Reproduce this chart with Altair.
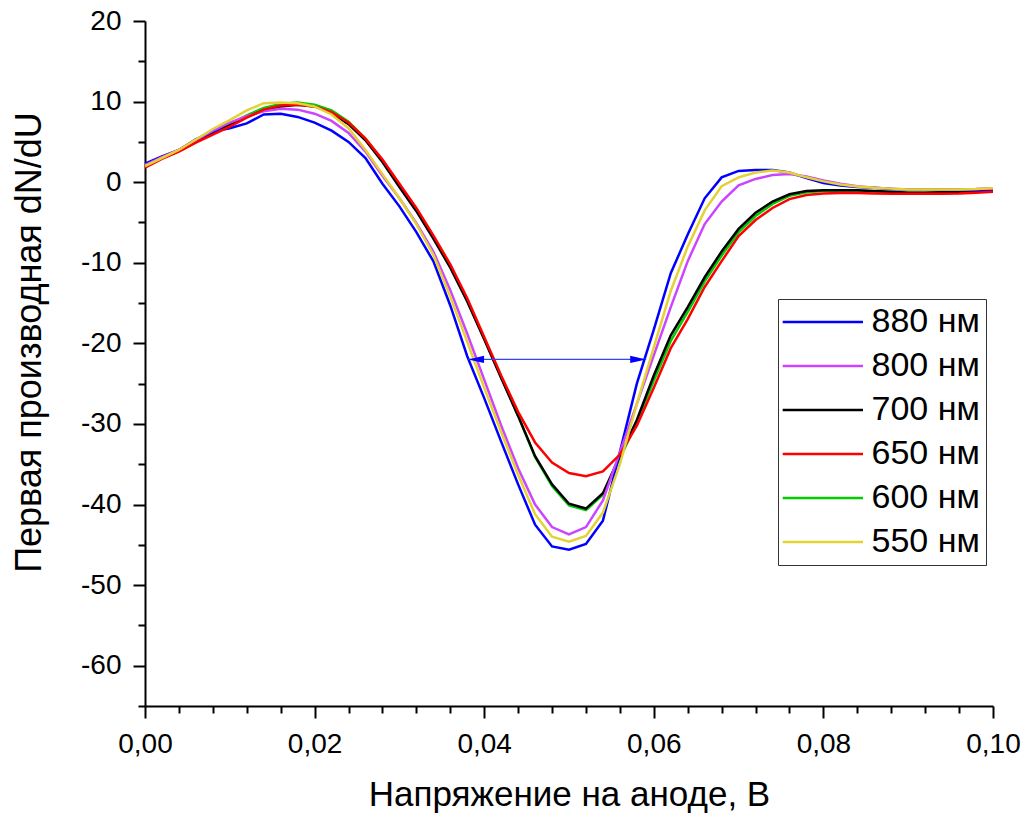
import altair as alt
import pandas as pd

# ---- data ----
x_values = [0.000, 0.002, 0.004, 0.006, 0.008, 0.010, 0.012, 0.014, 0.016, 0.018,
            0.020, 0.022, 0.024, 0.026, 0.028, 0.030, 0.032, 0.034, 0.036, 0.038,
            0.040, 0.042, 0.044, 0.046, 0.048, 0.050, 0.052, 0.054, 0.056, 0.058,
            0.060, 0.062, 0.064, 0.066, 0.068, 0.070, 0.072, 0.074, 0.076, 0.078,
            0.080, 0.082, 0.084, 0.086, 0.088, 0.090, 0.092, 0.094, 0.096, 0.098,
            0.100]

y_880 = [2.3, 3.2, 4.0, 5.3, 6.3, 6.7, 7.3, 8.4, 8.5, 8.1,
         7.4, 6.4, 5.0, 3.0, -0.2, -3.0, -6.2, -9.8, -15.3, -21.6,
         -26.8, -32.2, -37.5, -42.5, -45.2, -45.6, -44.9, -42.0, -33.5, -25.0,
         -18.3, -11.3, -6.5, -2.0, 0.6, 1.4, 1.5, 1.5, 1.2, 0.5,
         -0.1, -0.4, -0.6, -0.7, -0.85, -0.9, -0.9, -0.9, -0.95, -1.0,
         -1.0]
y_800 = [2.1, 3.1, 4.0, 5.2, 6.4, 7.4, 8.2, 8.8, 9.1, 9.0,
         8.5, 7.6, 6.1, 3.8, 0.8, -2.0, -5.1, -8.6, -13.4, -18.8,
         -24.5, -30.2, -35.5, -40.0, -42.8, -43.7, -42.8, -39.5, -33.5, -27.5,
         -21.5, -15.5, -9.8, -5.2, -2.4, -0.4, 0.4, 0.9, 1.0, 0.7,
         0.2, -0.2, -0.5, -0.7, -0.8, -0.9, -0.9, -0.9, -0.9, -0.85,
         -0.75]
y_700 = [2.0, 3.0, 3.9, 5.0, 6.1, 7.1, 8.1, 8.9, 9.4, 9.6,
         9.4, 8.6, 7.2, 5.2, 2.5, -0.6, -3.6, -7.0, -10.6, -14.8,
         -19.5, -24.3, -29.0, -34.0, -37.5, -39.9, -40.5, -38.6, -34.0, -29.5,
         -24.0, -19.0, -15.5, -11.8, -8.6, -5.8, -3.8, -2.4, -1.5, -1.1,
         -1.0, -1.0, -1.0, -1.1, -1.2, -1.3, -1.3, -1.25, -1.2, -1.1,
         -1.0]
y_650 = [1.8, 2.9, 3.8, 4.9, 5.9, 6.9, 8.0, 9.0, 9.5, 9.6,
         9.4, 8.7, 7.4, 5.4, 2.8, -0.2, -3.2, -6.6, -10.2, -14.4,
         -19.2, -24.0, -28.5, -32.3, -34.8, -36.1, -36.5, -35.9, -33.8, -30.2,
         -25.5, -20.6, -17.0, -13.0, -9.8, -6.7, -4.7, -3.2, -2.1, -1.6,
         -1.4, -1.35, -1.35, -1.4, -1.45, -1.45, -1.45, -1.45, -1.4, -1.3,
         -1.2]
y_600 = [1.9, 3.0, 3.9, 5.0, 6.1, 7.2, 8.3, 9.2, 9.7, 9.9,
         9.6, 8.9, 7.5, 5.4, 2.7, -0.4, -3.4, -6.8, -10.5, -14.7,
         -19.4, -24.2, -29.0, -34.1, -37.7, -40.1, -40.7, -38.8, -34.3, -29.8,
         -24.6, -19.7, -16.1, -12.3, -9.1, -6.2, -4.2, -2.7, -1.7, -1.25,
         -1.1, -1.1, -1.1, -1.15, -1.25, -1.3, -1.3, -1.25, -1.2, -1.1,
         -1.0]
y_550 = [2.0, 3.0, 4.0, 5.3, 6.6, 7.7, 8.9, 9.8, 9.9, 9.8,
         9.4, 8.4, 6.7, 4.0, 1.0, -2.0, -5.2, -9.0, -14.2, -19.8,
         -25.5, -31.0, -36.3, -41.2, -44.0, -44.6, -43.9, -41.0, -35.0, -27.5,
         -20.5, -13.5, -8.0, -3.5, -0.5, 0.6, 1.2, 1.45, 1.2, 0.6,
         0.1, -0.3, -0.55, -0.7, -0.8, -0.9, -0.9, -0.9, -0.9, -0.85,
         -0.75]

series_names = ["880 нм", "800 нм", "700 нм", "650 нм", "600 нм", "550 нм"]
series_colors = ["#0000FF", "#CC44FF", "#000000", "#FF0000", "#00CC00", "#E3D234"]
draw_order = ["600 нм", "700 нм", "880 нм", "800 нм", "650 нм", "550 нм"]

# arrow (width marker)
arrow_x_left = [0.0381]
arrow_x_right = [0.0591]
arrow_y = [-22.0]

# axis ticks
x_major = [0.0, 0.02, 0.04, 0.06, 0.08, 0.10]
x_minor = [0.004, 0.008, 0.012, 0.016, 0.024, 0.028, 0.032, 0.036,
           0.044, 0.048, 0.052, 0.056, 0.064, 0.068, 0.072, 0.076,
           0.084, 0.088, 0.092, 0.096]
y_major = [-60, -50, -40, -30, -20, -10, 0, 10, 20]
y_minor = [-65, -55, -45, -35, -25, -15, -5, 5, 15]

# ---- build tables ----
series_map = {"880 нм": y_880, "800 нм": y_800, "700 нм": y_700,
              "650 нм": y_650, "600 нм": y_600, "550 нм": y_550}
rows = []
for name in draw_order:
    for xv, yv in zip(x_values, series_map[name]):
        rows.append({"x": xv, "y": yv, "series": name})
df = pd.DataFrame(rows)

arrow_df = pd.DataFrame({"x1": arrow_x_left, "x2": arrow_x_right, "y": arrow_y})

FONT = "Liberation Sans"
xscale = alt.Scale(domain=[0, 0.1], nice=False, zero=False)
yscale = alt.Scale(domain=[-65, 20], nice=False, zero=False)

x_axis = alt.Axis(orient="bottom", values=x_major, title="Напряжение на аноде, В",
                  labelExpr="replace(format(datum.value, '.2f'), '.', ',')",
                  labelFontSize=28, labelPadding=12, labelFlush=False,
                  tickSize=12, tickWidth=2, domainWidth=2, grid=False,
                  titleFontSize=35, titlePadding=19)
y_axis = alt.Axis(orient="left", values=y_major, title="Первая производная dN/dU",
                  labelExpr="datum.value < 0 ? '-' + format(-datum.value, 'd') : format(datum.value, 'd')",
                  labelFontSize=28, labelPadding=12, labelFlush=False,
                  tickSize=12, tickWidth=2, domainWidth=2, grid=False,
                  titleFontSize=36, titleX=-97, titleY=321)

legend = alt.Legend(title=None, orient="none", legendX=633, legendY=278,
                    symbolType="M-1.83,0L6.2,0", symbolSize=400, symbolStrokeWidth=2.5,
                    labelFont=FONT, labelFontSize=34, labelColor="black",
                    labelOffset=53.5, rowPadding=10, padding=6,
                    strokeColor="#333333", fillColor="white", labelLimit=0)

lines = alt.Chart(df).mark_line(strokeWidth=2.5).encode(
    x=alt.X("x:Q", scale=xscale, axis=x_axis),
    y=alt.Y("y:Q", scale=yscale, axis=y_axis),
    color=alt.Color("series:N",
                    scale=alt.Scale(domain=series_names, range=series_colors),
                    legend=legend),
)

arrow_rule = alt.Chart(arrow_df).mark_rule(color="#3344FF", strokeWidth=1.2).encode(
    x=alt.X("x1:Q", scale=xscale,
            axis=alt.Axis(orient="bottom", values=x_minor, labels=False, domain=False,
                          tickSize=7, tickWidth=2, grid=False, title=None)),
    x2="x2:Q",
    y=alt.Y("y:Q", scale=yscale,
            axis=alt.Axis(orient="left", values=y_minor, labels=False, domain=False,
                          tickSize=7, tickWidth=2, grid=False, title=None)),
)

head_left = alt.Chart(arrow_df).mark_point(
    shape="M0,0L2,-0.45L2,0.45Z", filled=True, size=256, color="#0000FF",
    opacity=1, strokeWidth=0).encode(
    x=alt.X("x1:Q", scale=xscale, axis=None),
    y=alt.Y("y:Q", scale=yscale, axis=None),
)
head_right = alt.Chart(arrow_df).mark_point(
    shape="M0,0L-2,-0.45L-2,0.45Z", filled=True, size=256, color="#0000FF",
    opacity=1, strokeWidth=0).encode(
    x=alt.X("x2:Q", scale=xscale, axis=None),
    y=alt.Y("y:Q", scale=yscale, axis=None),
)

chart = alt.layer(lines, arrow_rule, head_left, head_right).resolve_axis(
    x="independent", y="independent"
).properties(
    width=848, height=685,
    autosize=alt.AutoSizeParams(type="none"),
    padding={"left": 145, "top": 21, "right": 33, "bottom": 108},
    background="white",
).configure_view(strokeOpacity=0).configure_axis(
    labelFont=FONT, titleFont=FONT, labelColor="black", titleColor="black",
    domainColor="black", tickColor="black", titleFontWeight="normal",
)

chart.save("out.html", embed_options={"renderer": "svg", "actions": False})
